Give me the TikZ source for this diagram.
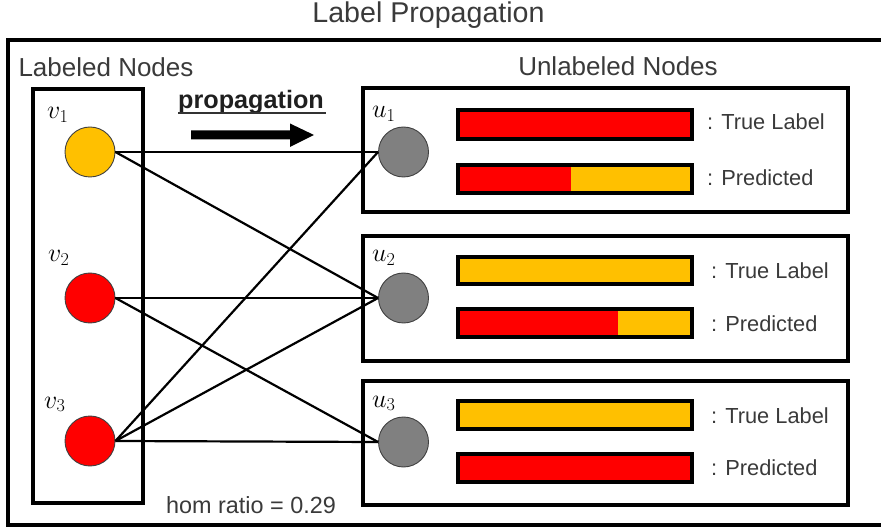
\documentclass[tikz,border=0pt]{standalone}
\usepackage{fix-cm}
\usepackage{fontspec}
\setmainfont{Liberation Sans}
\definecolor{txt}{HTML}{3A3A3A}
\definecolor{orng}{HTML}{FFC000}
\definecolor{rd}{HTML}{FF0000}
\definecolor{gry}{HTML}{808080}
\tikzset{
  frame/.style={draw=black, line width=3.6pt},
  nodec/.style={circle, draw=black!75, line width=0.9pt, minimum size=50pt, inner sep=0pt},
  edge/.style={draw=black, line width=2.2pt},
  barborder/.style={draw=black, line width=3.4pt},
  bigtxt/.style={text=txt, inner sep=0pt, anchor=base, font=\fontsize{26}{30}\selectfont},
  smalltxt/.style={text=txt, inner sep=0pt, anchor=base west, font=\fontsize{21.8}{26}\selectfont},
  mathlbl/.style={inner sep=0pt, anchor=base west, font=\fontsize{26}{30}\selectfont},
}
\begin{document}
\begin{tikzpicture}[x=1pt,y=-1pt]
\useasboundingbox (0,0) rectangle (881,529);
% outer frame (open to the right edge)
\draw[frame] (882,40) -- (8,40) -- (8,525) -- (882,525);
% title and group labels
\node[bigtxt, font=\fontsize{28.6}{32}\selectfont] (title) at (428.5,23) {Label Propagation};
\node[bigtxt] (lab) at (106,77) {Labeled Nodes};
\node[bigtxt] (unlab) at (618,76) {Unlabeled Nodes};
% left box
\draw[frame] (33,89) rectangle (143,503);
% right boxes
\draw[frame] (363,88) rectangle (848,212);
\draw[frame] (363,236) rectangle (848,361);
\draw[frame] (363,381) rectangle (848,505);
% bars box 1
\fill[rd] (458,110) rectangle (692,139);
\draw[barborder] (458,110) rectangle (692,139);
\fill[rd] (458,165) rectangle (571,193);
\fill[orng] (571,165) rectangle (692,193);
\draw[barborder] (458,165) rectangle (692,193);
% bars box 2
\fill[orng] (458,257) rectangle (692,284);
\draw[barborder] (458,257) rectangle (692,284);
\fill[rd] (458,309) rectangle (618,337);
\fill[orng] (618,309) rectangle (692,337);
\draw[barborder] (458,309) rectangle (692,337);
% bars box 3
\fill[orng] (458,401) rectangle (692,429);
\draw[barborder] (458,401) rectangle (692,429);
\fill[rd] (458,454) rectangle (692,482);
\draw[barborder] (458,454) rectangle (692,482);
% bar labels
\node[smalltxt] (t1) at (707,130) {: True Label};
\node[smalltxt] (p1) at (707,186) {: Predicted};
\node[smalltxt] (t2) at (711,279) {: True Label};
\node[smalltxt] (p2) at (711,331) {: Predicted};
\node[smalltxt] (t3) at (711,423) {: True Label};
\node[smalltxt] (p3) at (711,475) {: Predicted};
% propagation label and arrow
\node[text=black!88, inner sep=0pt, anchor=base, font=\bfseries\fontsize{25.2}{30}\selectfont] (prop) at (251,108.5) {propagation};
\draw[draw=black!80, line width=1.6pt] (prop.base west)++(0,4.5) -- ++(148,0);
\fill[black] (191,130.5) -- (290,130.5) -- (290,123.5) -- (314,135) -- (290,147) -- (290,139.5) -- (191,139.5) -- cycle;
% nodes
\node[nodec, fill=orng] (v1) at (90,152) {};
\node[nodec, fill=rd] (v2) at (90,298) {};
\node[nodec, fill=rd] (v3) at (90,441) {};
\node[nodec, fill=gry] (u1) at (403.5,152) {};
\node[nodec, fill=gry] (u2) at (403.5,298) {};
\node[nodec, fill=gry] (u3) at (403.5,442) {};
% node labels
\node[mathlbl] (lv1) at (47,119) {$v_1$};
\node[mathlbl] (lv2) at (48,262) {$v_2$};
\node[mathlbl] (lv3) at (44,408) {$v_3$};
\node[mathlbl] (lu1) at (372,118) {$u_1$};
\node[mathlbl] (lu2) at (372,262) {$u_2$};
\node[mathlbl] (lu3) at (372,407) {$u_3$};
% edges
\draw[edge] (v1.east) -- (u1.west);
\draw[edge] (v1.east) -- (u2.west);
\draw[edge] (v2.east) -- (u2.west);
\draw[edge] (v2.east) -- (u3.west);
\draw[edge] (v3.east) -- (u1.west);
\draw[edge] (v3.east) -- (u2.west);
\draw[edge] (v3.east) -- (u3.west);
% hom ratio
\node[bigtxt, font=\fontsize{23.4}{28}\selectfont] (hom) at (251,513) {hom ratio = 0.29};
\end{tikzpicture}
\end{document}
